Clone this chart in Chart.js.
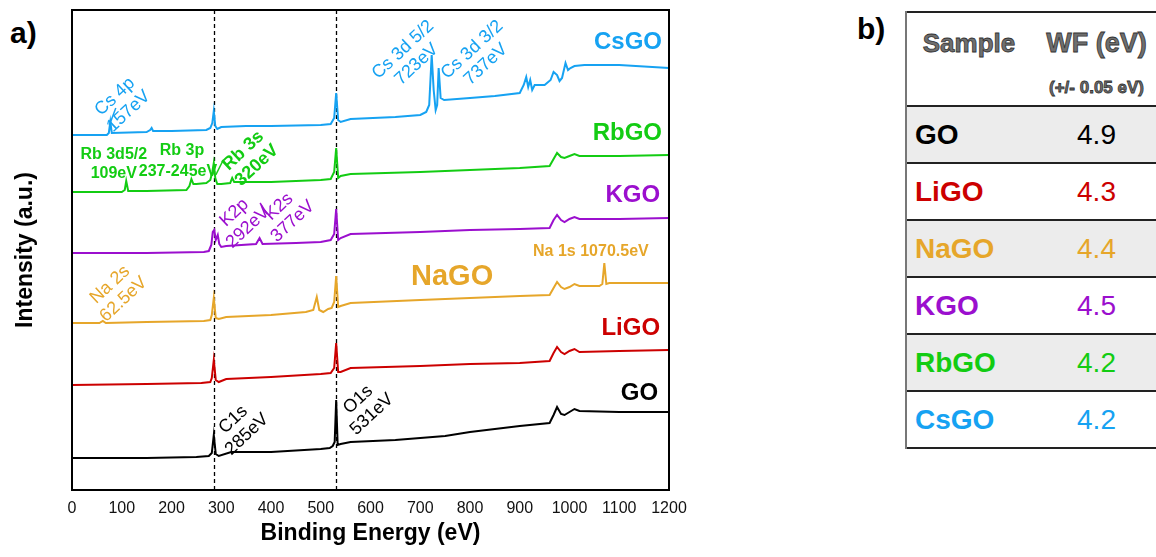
<!DOCTYPE html>
<html>
<head>
<meta charset="utf-8">
<script src="https://cdn.jsdelivr.net/npm/chart.js@4.4.1/dist/chart.umd.min.js"></script>
<style>
  html, body { margin: 0; padding: 0; background: #fff; overflow: hidden; }
  body { width: 1156px; height: 557px; position: relative; font-family: "Liberation Sans", Arial, sans-serif; }
  .chart-box { position: absolute; left: 0; top: 0; width: 700px; height: 557px; }
  .panel-tag { position: absolute; font-weight: bold; font-size: 30px; color: #000; }
  .wf-table { position: absolute; left: 905px; top: 11px; border-collapse: collapse; table-layout: fixed; width: 256px; }
  .wf-table th, .wf-table td { padding: 0; }
  .wf-table thead tr { height: 94px; border-top: 2px solid #222; border-bottom: 2px solid #222; }
  .wf-table th { font-weight: bold; color: #6f6f6f; -webkit-text-stroke: 0.8px #333; vertical-align: top; }
  .wf-table tbody tr { height: 57px; border-bottom: 2px solid #222; }
  .wf-table tbody tr.shade { background: #ececec; }
  .wf-table tr > :first-child { border-left: 2px solid #777; }
  .wf-table td.name { font-weight: bold; font-size: 28px; padding-left: 8px; }
  .wf-table td.val { font-size: 28px; text-align: center; }
</style>
</head>
<body>
<div class="panel-tag" style="left:10px; top:16px;">a)</div>
<div class="panel-tag" style="left:857px; top:12px;">b)</div>
<div class="chart-box"><canvas id="xpsChart"></canvas></div>
<table class="wf-table" id="wfTable">
  <colgroup><col style="width:125px"><col style="width:131px"></colgroup>
  <thead>
    <tr>
      <th style="font-size:26px; padding-top:15px; text-align:center;">Sample</th>
      <th style="text-align:center; padding-top:15px;"><div style="font-size:27px;">WF (eV)</div><div style="font-size:17px; margin-top:19px;">(+/- 0.05 eV)</div></th>
    </tr>
  </thead>
  <tbody></tbody>
</table>
<script>
// XPS survey spectra, binding energy (eV) vs intensity (a.u., stacked offsets)
const goEnergy = [0, 150, 250, 275, 281, 285, 289, 295, 320, 400, 500, 518, 524, 528, 531, 534, 540, 560, 650, 700, 750, 800, 850, 900, 960, 968, 975, 983, 990, 1000, 1010, 1020, 1100, 1200];
const goCounts = [32, 32, 33, 34, 37, 55, 36, 34, 38, 38, 41, 42, 44, 48, 90, 45, 46, 48, 50, 52, 54, 58, 61, 64, 67, 75, 83, 76, 75, 78, 81, 79, 78, 78];

const liEnergy = [0, 150, 260, 278, 281, 285, 289, 295, 310, 400, 500, 520, 527, 531, 535, 540, 560, 700, 800, 900, 960, 968, 975, 983, 990, 1000, 1010, 1020, 1100, 1200];
const liCounts = [105, 106, 107, 108, 112, 130, 110, 108, 111, 113, 116, 117, 122, 147, 118, 118, 122, 124, 126, 127, 129, 137, 143, 138, 136, 139, 141, 138, 139, 140];

const naEnergy = [0, 55, 62, 68, 150, 265, 278, 281, 285, 289, 295, 310, 400, 470, 485, 492, 497, 505, 515, 522, 527, 531, 535, 540, 560, 700, 800, 900, 960, 968, 975, 983, 990, 1000, 1010, 1020, 1060, 1066, 1070, 1074, 1080, 1200];
const naCounts = [167, 167, 169, 167, 168, 169, 170, 175, 192, 172, 171, 173, 175, 178, 180, 193, 180, 178, 181, 182, 188, 214, 183, 184, 187, 190, 192, 194, 195, 202, 208, 203, 201, 203, 206, 204, 204, 206, 227, 206, 207, 207];

const kEnergy = [0, 150, 265, 275, 280, 283, 286, 289, 293, 296, 300, 310, 370, 377, 383, 450, 500, 520, 527, 531, 535, 540, 560, 700, 800, 900, 960, 968, 975, 983, 990, 1000, 1010, 1020, 1100, 1200];
const kCounts = [237, 237, 238, 239, 245, 258, 260, 250, 255, 246, 243, 244, 246, 252, 246, 247, 248, 250, 256, 281, 250, 252, 256, 258, 260, 261, 262, 270, 275, 270, 268, 271, 273, 271, 271, 272];

const rbEnergy = [0, 100, 106, 109, 113, 150, 230, 236, 240, 244, 250, 270, 278, 282, 285, 288, 292, 300, 318, 322, 326, 335, 400, 500, 520, 527, 531, 535, 540, 560, 700, 800, 900, 960, 968, 975, 983, 990, 1000, 1010, 1020, 1100, 1200];
const rbCounts = [298, 298, 300, 309, 299, 299, 300, 304, 311, 306, 306, 307, 310, 318, 327, 312, 306, 306, 307, 312, 308, 308, 308, 310, 311, 318, 342, 312, 314, 316, 318, 320, 322, 324, 331, 337, 333, 332, 334, 336, 334, 334, 335];

const csEnergy = [0, 70, 74, 77, 80, 150, 157, 160, 163, 200, 270, 278, 282, 285, 288, 292, 300, 350, 400, 500, 520, 527, 531, 535, 540, 560, 650, 700, 712, 718, 723, 727, 731, 734, 737, 741, 748, 800, 850, 900, 908, 913, 917, 921, 925, 930, 950, 962, 968, 975, 980, 985, 992, 997, 1002, 1010, 1030, 1100, 1200];
const csCounts = [355, 355, 357, 368, 357, 358, 360, 362, 359, 359, 360, 362, 367, 379, 364, 361, 363, 364, 364, 365, 366, 372, 397, 370, 368, 371, 373, 375, 378, 385, 435, 400, 380, 385, 422, 392, 390, 392, 394, 397, 405, 413, 403, 410, 400, 405, 405, 410, 418, 415, 409, 412, 427, 420, 422, 424, 425, 425, 422];

const xTicks = [0, 100, 200, 300, 400, 500, 600, 700, 800, 900, 1000, 1100, 1200];
const refLines = [285, 531];

// panel b) work functions
const samples = ['GO', 'LiGO', 'NaGO', 'KGO', 'RbGO', 'CsGO'];
const workFunctions = ['4.9', '4.3', '4.4', '4.5', '4.2', '4.2'];

const colors = {
  GO: '#000000', LiGO: '#cc0000', NaGO: '#e6a62a',
  KGO: '#9b0fce', RbGO: '#13cc13', CsGO: '#16a2f2'
};

// text annotations, placed in data coordinates
const seriesNames = [
  { text: 'CsGO', x: 1186, y: 448, color: colors.CsGO, size: 24, align: 'right' },
  { text: 'RbGO', x: 1186, y: 357, color: colors.RbGO, size: 24, align: 'right' },
  { text: 'KGO', x: 1182, y: 295, color: colors.KGO, size: 24, align: 'right' },
  { text: 'NaGO', x: 764, y: 213, color: colors.NaGO, size: 29, align: 'center' },
  { text: 'LiGO', x: 1182, y: 162, color: colors.LiGO, size: 24, align: 'right' },
  { text: 'GO', x: 1178, y: 97, color: colors.GO, size: 24, align: 'right' }
];
const flatNotes = [
  { text: 'Rb 3d5/2', x: 84, y: 335, color: colors.RbGO },
  { text: '109eV', x: 84, y: 316, color: colors.RbGO },
  { text: 'Rb 3p', x: 221, y: 339, color: colors.RbGO },
  { text: '237-245eV', x: 213, y: 318, color: colors.RbGO },
  { text: 'Na 1s 1070.5eV', x: 1043, y: 238, color: colors.NaGO }
];
const tiltedNotes = [
  { lines: ['Cs 4p', '157eV'], x: 100, y: 386, color: colors.CsGO },
  { lines: ['Cs 3d 5/2', '723eV'], x: 679, y: 433, color: colors.CsGO },
  { lines: ['Cs 3d 3/2', '737eV'], x: 818, y: 433, color: colors.CsGO },
  { lines: ['Rb 3s', '320eV'], x: 358, y: 332, color: colors.RbGO, bold: true },
  { lines: ['K2p', '292eV'], x: 340, y: 270, color: colors.KGO },
  { lines: ['K2s', '377eV'], x: 430, y: 276, color: colors.KGO },
  { lines: ['Na 2s', '62.5eV'], x: 90, y: 198, color: colors.NaGO },
  { lines: ['C1s', '285eV'], x: 338, y: 63, color: colors.GO },
  { lines: ['O1s', '531eV'], x: 589, y: 83, color: colors.GO }
];
const pointers = [
  { from: [76, 366], to: [88, 382], color: colors.CsGO },
  { from: [289, 315], to: [304, 330], color: colors.RbGO },
  { from: [378, 287], to: [392, 276], color: colors.KGO }
];

const FONT = '"Liberation Sans", Arial, sans-serif';

function toPoints(xs, ys) {
  return xs.map((x, i) => ({ x: x, y: ys[i] }));
}

const annotationPlugin = {
  id: 'xpsNotes',
  beforeDatasetsDraw(chart) {
    const { ctx, chartArea, scales } = chart;
    ctx.save();
    ctx.strokeStyle = '#000';
    ctx.lineWidth = 1.3;
    ctx.setLineDash([4, 3]);
    refLines.forEach(e => {
      const px = Math.round(scales.x.getPixelForValue(e)) + 0.5;
      ctx.beginPath();
      ctx.moveTo(px, chartArea.top);
      ctx.lineTo(px, chartArea.bottom);
      ctx.stroke();
    });
    ctx.restore();
  },
  afterDatasetsDraw(chart) {
    const { ctx, chartArea, scales } = chart;
    const sx = v => scales.x.getPixelForValue(v);
    const sy = v => scales.y.getPixelForValue(v);
    ctx.save();

    // frame
    ctx.strokeStyle = '#000';
    ctx.lineWidth = 2;
    ctx.strokeRect(chartArea.left, chartArea.top, chartArea.right - chartArea.left, chartArea.bottom - chartArea.top);

    ctx.textBaseline = 'middle';
    seriesNames.forEach(n => {
      ctx.font = 'bold ' + n.size + 'px ' + FONT;
      ctx.fillStyle = n.color;
      ctx.textAlign = n.align;
      ctx.fillText(n.text, sx(n.x), sy(n.y));
    });

    ctx.font = 'bold 16px ' + FONT;
    ctx.textAlign = 'center';
    flatNotes.forEach(n => {
      ctx.fillStyle = n.color;
      ctx.fillText(n.text, sx(n.x), sy(n.y));
    });

    tiltedNotes.forEach(n => {
      ctx.save();
      ctx.translate(sx(n.x), sy(n.y));
      ctx.rotate(-43 * Math.PI / 180);
      ctx.font = (n.bold ? 'bold ' : '') + '18px ' + FONT;
      ctx.fillStyle = n.color;
      ctx.textAlign = 'center';
      ctx.fillText(n.lines[0], 0, -10);
      ctx.fillText(n.lines[1], 0, 10);
      ctx.restore();
    });

    ctx.lineWidth = 1.5;
    pointers.forEach(p => {
      ctx.strokeStyle = p.color;
      ctx.beginPath();
      ctx.moveTo(sx(p.from[0]), sy(p.from[1]));
      ctx.lineTo(sx(p.to[0]), sy(p.to[1]));
      ctx.stroke();
    });
    ctx.restore();
  }
};

function lineSet(label, xs, ys) {
  return {
    label: label,
    data: toPoints(xs, ys),
    borderColor: colors[label],
    borderWidth: 2,
    pointRadius: 0,
    tension: 0,
    fill: false
  };
}

new Chart(document.getElementById('xpsChart'), {
  type: 'line',
  data: {
    datasets: [
      lineSet('GO', goEnergy, goCounts),
      lineSet('LiGO', liEnergy, liCounts),
      lineSet('NaGO', naEnergy, naCounts),
      lineSet('KGO', kEnergy, kCounts),
      lineSet('RbGO', rbEnergy, rbCounts),
      lineSet('CsGO', csEnergy, csCounts)
    ]
  },
  options: {
    responsive: true,
    maintainAspectRatio: false,
    animation: false,
    layout: { padding: { top: 10, right: 31, left: 0, bottom: 0 } },
    plugins: { legend: { display: false }, tooltip: { enabled: false } },
    scales: {
      x: {
        type: 'linear',
        min: 0,
        max: 1200,
        afterBuildTicks: scale => { scale.ticks = xTicks.map(v => ({ value: v })); },
        afterFit: scale => { scale.height = 67; },
        grid: { display: false, drawTicks: false },
        border: { display: false },
        ticks: {
          color: '#111',
          padding: 9,
          maxRotation: 0,
          font: { family: FONT, size: 16 },
          callback: value => String(value)
        },
        title: {
          display: true,
          text: 'Binding Energy (eV)',
          color: '#000',
          padding: { top: 0, bottom: 10 },
          font: { family: FONT, size: 23, weight: 'bold' }
        }
      },
      y: {
        min: 0,
        max: 480,
        afterFit: scale => { scale.width = 72; },
        grid: { display: false, drawTicks: false },
        border: { display: false },
        ticks: { display: false },
        title: {
          display: true,
          text: 'Intensity (a.u.)',
          color: '#000',
          padding: { top: 12, bottom: 0 },
          font: { family: FONT, size: 23, weight: 'bold' }
        }
      }
    }
  },
  plugins: [annotationPlugin]
});

// panel b) table rows
const tbody = document.querySelector('#wfTable tbody');
tbody.innerHTML = samples.map((s, i) => `
  <tr class="${i % 2 === 0 ? 'shade' : ''}">
    <td class="name" style="color:${colors[s]}">${s}</td>
    <td class="val" style="color:${colors[s]}">${workFunctions[i]}</td>
  </tr>`).join('');
</script>
</body>
</html>
